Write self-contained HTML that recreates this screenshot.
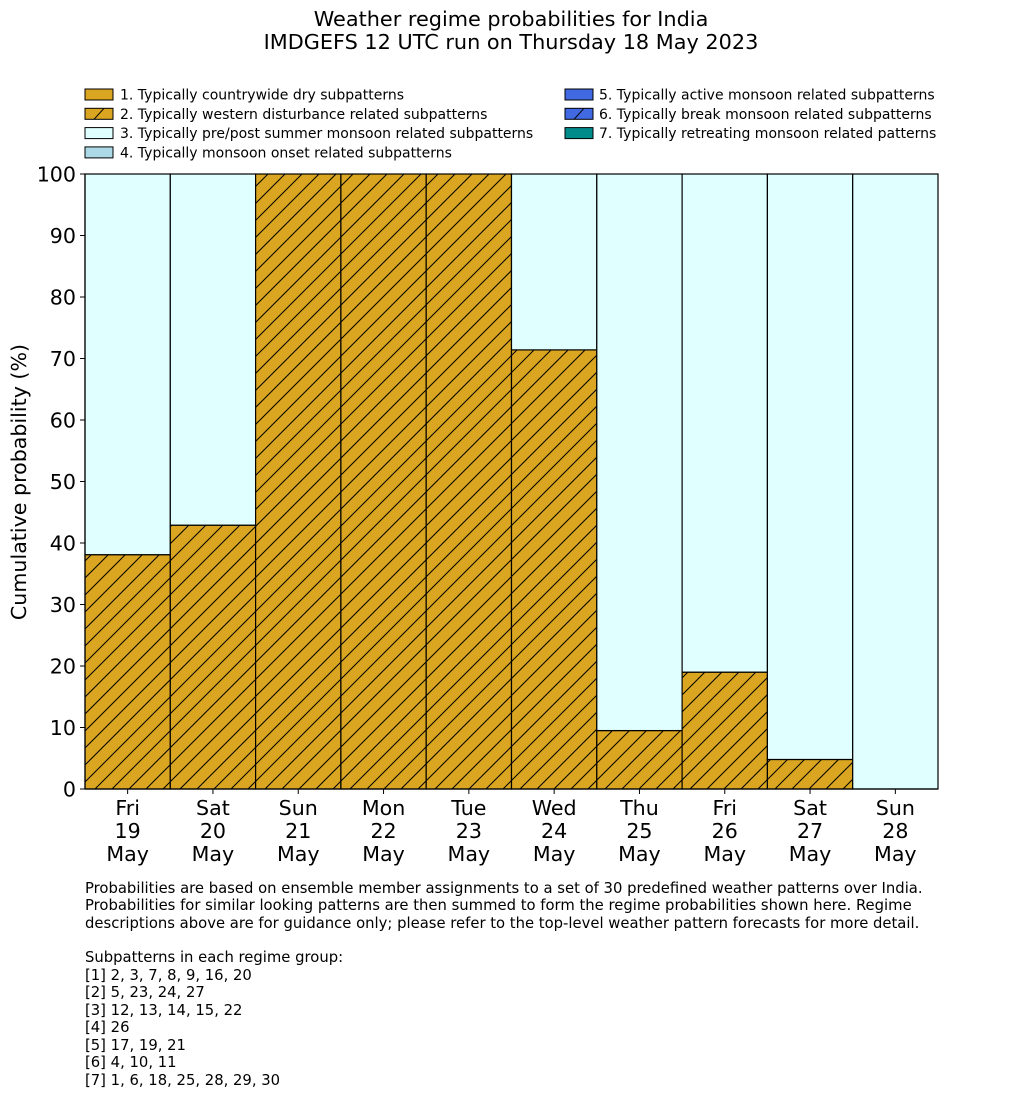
<!DOCTYPE html>
<html><head><meta charset="utf-8"><style>
body{margin:0;background:#fff}
svg{display:block;font-family:"DejaVu Sans","Liberation Sans",sans-serif}
</style></head><body>
<svg id="c" width="1033" height="1114" viewBox="0 0 1033 1114">
<defs>
<pattern id="hatch" patternUnits="userSpaceOnUse" width="17" height="17">
<path d="M-2,19 L19,-2 M-2,2 L2,-2 M15,19 L19,15" stroke="#000" stroke-width="1"/>
</pattern>
</defs>
<g>
<text x="511" y="26" font-size="20.8" text-anchor="middle">Weather regime probabilities for India</text>
<text x="511" y="49" font-size="20.8" text-anchor="middle">IMDGEFS 12 UTC run on Thursday 18 May 2023</text>
</g>
<g id="legend"></g>
<g id="bars"></g>
<g id="axes"></g>
<text transform="translate(26,482) rotate(-90)" font-size="20.6" text-anchor="middle">Cumulative probability (%)</text>
<g font-size="14.8">
<text x="85" y="893">Probabilities are based on ensemble member assignments to a set of 30 predefined weather patterns over India.</text>
<text x="85" y="910">Probabilities for similar looking patterns are then summed to form the regime probabilities shown here. Regime</text>
<text x="85" y="928">descriptions above are for guidance only; please refer to the top-level weather pattern forecasts for more detail.</text>
<text x="85" y="962">Subpatterns in each regime group:</text>
<text x="85" y="980">[1] 2, 3, 7, 8, 9, 16, 20</text>
<text x="85" y="997">[2] 5, 23, 24, 27</text>
<text x="85" y="1015">[3] 12, 13, 14, 15, 22</text>
<text x="85" y="1032">[4] 26</text>
<text x="85" y="1050">[5] 17, 19, 21</text>
<text x="85" y="1067">[6] 4, 10, 11</text>
<text x="85" y="1085">[7] 1, 6, 18, 25, 28, 29, 30</text>
</g>
</svg>
<script>
const days=["Fri","Sat","Sun","Mon","Tue","Wed","Thu","Fri","Sat","Sun"];
const dates=["19","20","21","22","23","24","25","26","27","28"];
const westernDist=[38.1,42.9,100,100,100,71.4,9.5,19.0,4.8,0];
const prePostMonsoon=[61.9,57.1,0,0,0,28.6,90.5,81.0,95.2,100];
const yTicks=[0,10,20,30,40,50,60,70,80,90,100];
const legendLabels=["1. Typically countrywide dry subpatterns","2. Typically western disturbance related subpatterns","3. Typically pre/post summer monsoon related subpatterns","4. Typically monsoon onset related subpatterns","5. Typically active monsoon related subpatterns","6. Typically break monsoon related subpatterns","7. Typically retreating monsoon related patterns"];
const NS="http://www.w3.org/2000/svg";
const X0=85,X1=938,Y0=789,Y1=174;
const bw=(X1-X0)/days.length;
const xs=i=>X0+i*bw;
const ys=v=>Y0-(v/100)*(Y0-Y1);
function mk(tag,attrs,parent){const e=document.createElementNS(NS,tag);for(const k in attrs)e.setAttribute(k,attrs[k]);parent.appendChild(e);return e;}
const bars=document.getElementById('bars');
for(let i=0;i<days.length;i++){
 let b=0;
 const v2=westernDist[i];
 if(v2>0){
  const r=mk('rect',{x:xs(i),y:ys(b+v2),width:bw,height:ys(b)-ys(b+v2),fill:'#daa520'},bars);
  
  
  const h=mk('rect',{x:xs(i),y:ys(b+v2),width:bw,height:ys(b)-ys(b+v2),fill:'url(#hatch)',stroke:'#000','stroke-width':1.2},bars);
  
  
  b+=v2;
 }
 const v3=prePostMonsoon[i];
 if(v3>0){
  const r=mk('rect',{x:xs(i),y:ys(b+v3),width:bw,height:ys(b)-ys(b+v3),fill:'#e0ffff',stroke:'#000','stroke-width':1.2},bars);
  
  
 }
}
const ax=document.getElementById('axes');
mk('line',{x1:X0,y1:Y1,x2:X0,y2:Y0,stroke:'#000','stroke-width':1.2},ax);
mk('line',{x1:X0,y1:Y0,x2:X1,y2:Y0,stroke:'#000','stroke-width':1.2},ax);
yTicks.forEach(t=>{
 mk('line',{x1:X0-5,y1:ys(t),x2:X0,y2:ys(t),stroke:'#000'},ax);
 const tx=mk('text',{x:X0-9,y:ys(t)+7.5,'font-size':20.6,'text-anchor':'end'},ax);
 tx.textContent=t;
 
 
});
days.forEach((d,i)=>{
 const cx=xs(i)+bw/2;
 mk('line',{x1:cx,y1:Y0,x2:cx,y2:Y0+5,stroke:'#000'},ax);
 const lines=[d,dates[i],"May"];
 lines.forEach((s,k)=>{
  const tx=mk('text',{x:cx,y:815+k*23,'font-size':20.6,'text-anchor':'middle'},ax);
  tx.textContent=s;
  
  
 });
});
const leg=document.getElementById('legend');
const fills=['#daa520','#daa520','#e0ffff','#add8e6','#4169e1','#4169e1','#008b8b'];
const hatched=[false,true,false,false,false,true,false];
legendLabels.forEach((l,i)=>{
 const col=i<4?0:1,row=i<4?i:i-4;
 const px=col?565:85,py=89+row*19.3;
 const r=mk('rect',{x:px,y:py,width:28,height:11,fill:fills[i],stroke:'#000','stroke-width':1},leg);
 
 
 if(hatched[i]) mk('path',{d:`M${px+9},${py+11} L${px+19},${py}`,stroke:'#000','stroke-width':1},leg);
 const t=mk('text',{x:col?599:120,y:py+10.5,'font-size':14},leg);
 t.textContent=l;
 
 
});
</script>
</body></html>
